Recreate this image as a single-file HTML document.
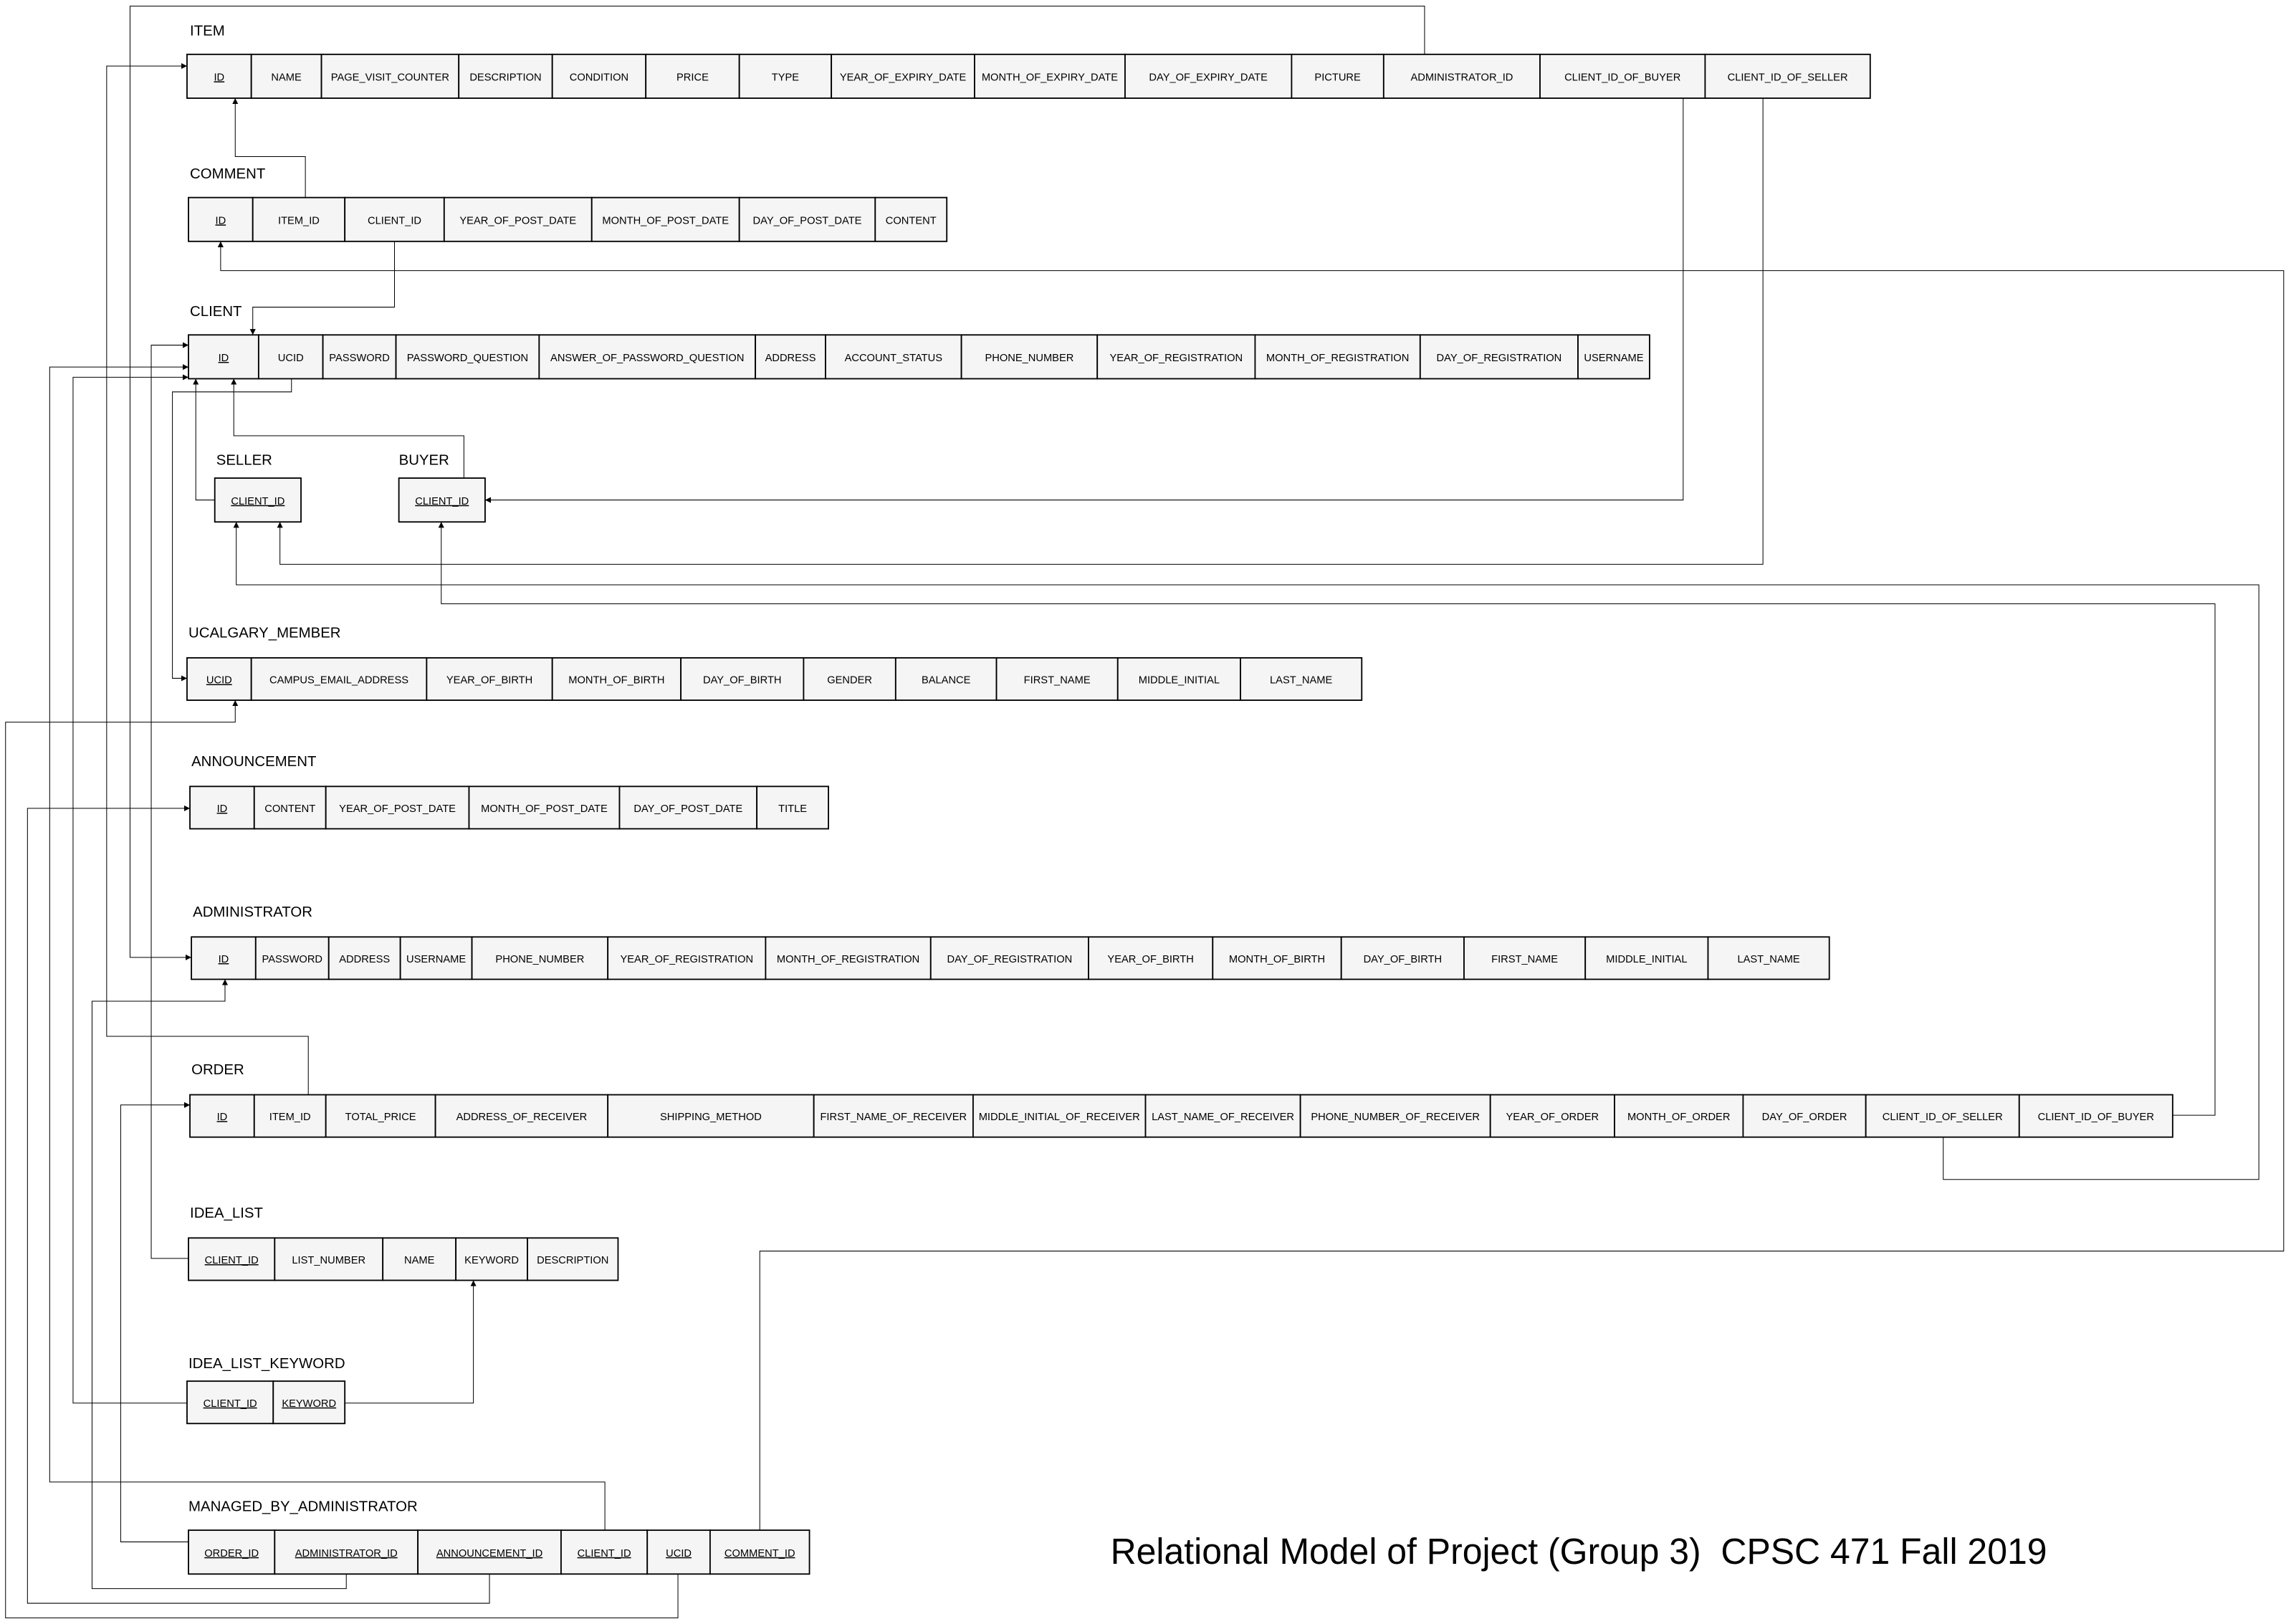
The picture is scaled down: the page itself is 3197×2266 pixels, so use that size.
<!DOCTYPE html>
<html><head><meta charset="utf-8">
<style>
html,body{margin:0;padding:0;background:#fff;}
svg{display:block;}
text{font-family:"Liberation Sans",Arial,sans-serif;fill:#000;}
.c{fill:#f5f5f5;stroke:#000;stroke-width:0.9;}
.t{font-size:7.2px;text-anchor:middle;}
.u{text-decoration:underline;}
.l{font-size:10px;}
.w{fill:none;stroke:#000;stroke-width:0.5;}
</style></head>
<body>
<svg width="3197" height="2266" viewBox="0 0 1568 1111" xmlns="http://www.w3.org/2000/svg">
<defs>
<marker id="a" viewBox="0 0 6 6" refX="6" refY="3" markerWidth="4" markerHeight="4" markerUnits="userSpaceOnUse" orient="auto">
<path d="M0,0 L6,3 L0,6 z" fill="#000"/>
</marker>
</defs>
<rect width="1568" height="1111" fill="#fff"/>

<!-- connectors -->
<g class="w" marker-end="url(#a)">
<path d="M975,37 V4 H89 V655 H131"/>
<path d="M209,135 V107 H161 V67"/>
<path d="M270,165 V210 H173 V229"/>
<path d="M520,1047 V856 H1563 V185 H151 V165"/>
<path d="M211,749 V709 H73 V45 H128"/>
<path d="M129,861 H103.5 V236 H129"/>
<path d="M414,1047 V1014 H34 V251 H129"/>
<path d="M128,960 H50 V258 H129"/>
<path d="M129,1055 H82.6 V756 H130"/>
<path d="M237,1077 V1087 H63 V685 H154 V670"/>
<path d="M335,1077 V1097 H18.8 V553 H130"/>
<path d="M464,1077 V1107 H3.8 V494 H161 V479"/>
<path d="M199.5,259 V268 H118 V464 H128"/>
<path d="M147,342 H134 V259"/>
<path d="M317.5,327 V298 H160 V259"/>
<path d="M1152,67 V342 H332"/>
<path d="M1206.6,67 V386 H191.6 V357"/>
<path d="M1330,778 V807 H1546 V400 H161.7 V357"/>
<path d="M1487,763 H1516 V413 H302 V357"/>
<path d="M236,960 H324 V876"/>
</g>

<!-- ITEM -->
<text class="l" x="130" y="24">ITEM</text>
<g>
<rect class="c" x="128" y="37" width="44" height="30"/><rect class="c" x="172" y="37" width="48" height="30"/><rect class="c" x="220" y="37" width="94" height="30"/><rect class="c" x="314" y="37" width="64" height="30"/><rect class="c" x="378" y="37" width="64" height="30"/><rect class="c" x="442" y="37" width="64" height="30"/><rect class="c" x="506" y="37" width="63" height="30"/><rect class="c" x="569" y="37" width="98" height="30"/><rect class="c" x="667" y="37" width="103" height="30"/><rect class="c" x="770" y="37" width="114" height="30"/><rect class="c" x="884" y="37" width="63" height="30"/><rect class="c" x="947" y="37" width="107" height="30"/><rect class="c" x="1054" y="37" width="113" height="30"/><rect class="c" x="1167" y="37" width="113" height="30"/>
<text class="t u" x="150" y="55">ID</text><text class="t" x="196" y="55">NAME</text><text class="t" x="267" y="55">PAGE_VISIT_COUNTER</text><text class="t" x="346" y="55">DESCRIPTION</text><text class="t" x="410" y="55">CONDITION</text><text class="t" x="474" y="55">PRICE</text><text class="t" x="537.5" y="55">TYPE</text><text class="t" x="618" y="55">YEAR_OF_EXPIRY_DATE</text><text class="t" x="718.5" y="55">MONTH_OF_EXPIRY_DATE</text><text class="t" x="827" y="55">DAY_OF_EXPIRY_DATE</text><text class="t" x="915.5" y="55">PICTURE</text><text class="t" x="1000.5" y="55">ADMINISTRATOR_ID</text><text class="t" x="1110.5" y="55">CLIENT_ID_OF_BUYER</text><text class="t" x="1223.5" y="55">CLIENT_ID_OF_SELLER</text>
</g>

<!-- COMMENT -->
<text class="l" x="130" y="122">COMMENT</text>
<rect class="c" x="129" y="135" width="44" height="30"/><rect class="c" x="173" y="135" width="63" height="30"/><rect class="c" x="236" y="135" width="68" height="30"/><rect class="c" x="304" y="135" width="101" height="30"/><rect class="c" x="405" y="135" width="101" height="30"/><rect class="c" x="506" y="135" width="93" height="30"/><rect class="c" x="599" y="135" width="49" height="30"/>
<text class="t u" x="151" y="153">ID</text><text class="t" x="204.5" y="153">ITEM_ID</text><text class="t" x="270" y="153">CLIENT_ID</text><text class="t" x="354.5" y="153">YEAR_OF_POST_DATE</text><text class="t" x="455.5" y="153">MONTH_OF_POST_DATE</text><text class="t" x="552.5" y="153">DAY_OF_POST_DATE</text><text class="t" x="623.5" y="153">CONTENT</text>

<!-- CLIENT -->
<text class="l" x="130" y="216">CLIENT</text>
<rect class="c" x="129" y="229" width="48" height="30"/><rect class="c" x="177" y="229" width="44" height="30"/><rect class="c" x="221" y="229" width="50" height="30"/><rect class="c" x="271" y="229" width="98" height="30"/><rect class="c" x="369" y="229" width="148" height="30"/><rect class="c" x="517" y="229" width="48" height="30"/><rect class="c" x="565" y="229" width="93" height="30"/><rect class="c" x="658" y="229" width="93" height="30"/><rect class="c" x="751" y="229" width="108" height="30"/><rect class="c" x="859" y="229" width="113" height="30"/><rect class="c" x="972" y="229" width="108" height="30"/><rect class="c" x="1080" y="229" width="49" height="30"/>
<text class="t u" x="153" y="247">ID</text><text class="t" x="199" y="247">UCID</text><text class="t" x="246" y="247">PASSWORD</text><text class="t" x="320" y="247">PASSWORD_QUESTION</text><text class="t" x="443" y="247">ANSWER_OF_PASSWORD_QUESTION</text><text class="t" x="541" y="247">ADDRESS</text><text class="t" x="611.5" y="247">ACCOUNT_STATUS</text><text class="t" x="704.5" y="247">PHONE_NUMBER</text><text class="t" x="805" y="247">YEAR_OF_REGISTRATION</text><text class="t" x="915.5" y="247">MONTH_OF_REGISTRATION</text><text class="t" x="1026" y="247">DAY_OF_REGISTRATION</text><text class="t" x="1104.5" y="247">USERNAME</text>

<!-- SELLER / BUYER -->
<text class="l" x="148" y="318">SELLER</text>
<rect class="c" x="147" y="327" width="59" height="30"/>
<text class="t u" x="176.5" y="345">CLIENT_ID</text>
<text class="l" x="273" y="318">BUYER</text>
<rect class="c" x="273" y="327" width="59" height="30"/>
<text class="t u" x="302.5" y="345">CLIENT_ID</text>

<!-- UCALGARY_MEMBER -->
<text class="l" x="129" y="436">UCALGARY_MEMBER</text>
<rect class="c" x="128" y="450" width="44" height="29"/><rect class="c" x="172" y="450" width="120" height="29"/><rect class="c" x="292" y="450" width="86" height="29"/><rect class="c" x="378" y="450" width="88" height="29"/><rect class="c" x="466" y="450" width="84" height="29"/><rect class="c" x="550" y="450" width="63" height="29"/><rect class="c" x="613" y="450" width="69" height="29"/><rect class="c" x="682" y="450" width="83" height="29"/><rect class="c" x="765" y="450" width="84" height="29"/><rect class="c" x="849" y="450" width="83" height="29"/>
<text class="t u" x="150" y="467.5">UCID</text><text class="t" x="232" y="467.5">CAMPUS_EMAIL_ADDRESS</text><text class="t" x="335" y="467.5">YEAR_OF_BIRTH</text><text class="t" x="422" y="467.5">MONTH_OF_BIRTH</text><text class="t" x="508" y="467.5">DAY_OF_BIRTH</text><text class="t" x="581.5" y="467.5">GENDER</text><text class="t" x="647.5" y="467.5">BALANCE</text><text class="t" x="723.5" y="467.5">FIRST_NAME</text><text class="t" x="807" y="467.5">MIDDLE_INITIAL</text><text class="t" x="890.5" y="467.5">LAST_NAME</text>

<!-- ANNOUNCEMENT -->
<text class="l" x="131" y="524">ANNOUNCEMENT</text>
<rect class="c" x="130" y="538" width="44" height="29"/><rect class="c" x="174" y="538" width="49" height="29"/><rect class="c" x="223" y="538" width="98" height="29"/><rect class="c" x="321" y="538" width="103" height="29"/><rect class="c" x="424" y="538" width="94" height="29"/><rect class="c" x="518" y="538" width="49" height="29"/>
<text class="t u" x="152" y="555.5">ID</text><text class="t" x="198.5" y="555.5">CONTENT</text><text class="t" x="272" y="555.5">YEAR_OF_POST_DATE</text><text class="t" x="372.5" y="555.5">MONTH_OF_POST_DATE</text><text class="t" x="471" y="555.5">DAY_OF_POST_DATE</text><text class="t" x="542.5" y="555.5">TITLE</text>

<!-- ADMINISTRATOR -->
<text class="l" x="132" y="627">ADMINISTRATOR</text>
<rect class="c" x="131" y="641" width="44" height="29"/><rect class="c" x="175" y="641" width="50" height="29"/><rect class="c" x="225" y="641" width="49" height="29"/><rect class="c" x="274" y="641" width="49" height="29"/><rect class="c" x="323" y="641" width="93" height="29"/><rect class="c" x="416" y="641" width="108" height="29"/><rect class="c" x="524" y="641" width="113" height="29"/><rect class="c" x="637" y="641" width="108" height="29"/><rect class="c" x="745" y="641" width="85" height="29"/><rect class="c" x="830" y="641" width="88" height="29"/><rect class="c" x="918" y="641" width="84" height="29"/><rect class="c" x="1002" y="641" width="83" height="29"/><rect class="c" x="1085" y="641" width="84" height="29"/><rect class="c" x="1169" y="641" width="83" height="29"/>
<text class="t u" x="153" y="658.5">ID</text><text class="t" x="200" y="658.5">PASSWORD</text><text class="t" x="249.5" y="658.5">ADDRESS</text><text class="t" x="298.5" y="658.5">USERNAME</text><text class="t" x="369.5" y="658.5">PHONE_NUMBER</text><text class="t" x="470" y="658.5">YEAR_OF_REGISTRATION</text><text class="t" x="580.5" y="658.5">MONTH_OF_REGISTRATION</text><text class="t" x="691" y="658.5">DAY_OF_REGISTRATION</text><text class="t" x="787.5" y="658.5">YEAR_OF_BIRTH</text><text class="t" x="874" y="658.5">MONTH_OF_BIRTH</text><text class="t" x="960" y="658.5">DAY_OF_BIRTH</text><text class="t" x="1043.5" y="658.5">FIRST_NAME</text><text class="t" x="1127" y="658.5">MIDDLE_INITIAL</text><text class="t" x="1210.5" y="658.5">LAST_NAME</text>

<!-- ORDER -->
<text class="l" x="131" y="735">ORDER</text>
<rect class="c" x="130" y="749" width="44" height="29"/><rect class="c" x="174" y="749" width="49" height="29"/><rect class="c" x="223" y="749" width="75" height="29"/><rect class="c" x="298" y="749" width="118" height="29"/><rect class="c" x="416" y="749" width="141" height="29"/><rect class="c" x="557" y="749" width="109" height="29"/><rect class="c" x="666" y="749" width="118" height="29"/><rect class="c" x="784" y="749" width="106" height="29"/><rect class="c" x="890" y="749" width="130" height="29"/><rect class="c" x="1020" y="749" width="85" height="29"/><rect class="c" x="1105" y="749" width="88" height="29"/><rect class="c" x="1193" y="749" width="84" height="29"/><rect class="c" x="1277" y="749" width="105" height="29"/><rect class="c" x="1382" y="749" width="105" height="29"/>
<text class="t u" x="152" y="766.5">ID</text><text class="t" x="198.5" y="766.5">ITEM_ID</text><text class="t" x="260.5" y="766.5">TOTAL_PRICE</text><text class="t" x="357" y="766.5">ADDRESS_OF_RECEIVER</text><text class="t" x="486.5" y="766.5">SHIPPING_METHOD</text><text class="t" x="611.5" y="766.5">FIRST_NAME_OF_RECEIVER</text><text class="t" x="725" y="766.5">MIDDLE_INITIAL_OF_RECEIVER</text><text class="t" x="837" y="766.5">LAST_NAME_OF_RECEIVER</text><text class="t" x="955" y="766.5">PHONE_NUMBER_OF_RECEIVER</text><text class="t" x="1062.5" y="766.5">YEAR_OF_ORDER</text><text class="t" x="1149" y="766.5">MONTH_OF_ORDER</text><text class="t" x="1235" y="766.5">DAY_OF_ORDER</text><text class="t" x="1329.5" y="766.5">CLIENT_ID_OF_SELLER</text><text class="t" x="1434.5" y="766.5">CLIENT_ID_OF_BUYER</text>

<!-- IDEA_LIST -->
<text class="l" x="130" y="833">IDEA_LIST</text>
<rect class="c" x="129" y="847" width="59" height="29"/><rect class="c" x="188" y="847" width="74" height="29"/><rect class="c" x="262" y="847" width="50" height="29"/><rect class="c" x="312" y="847" width="49" height="29"/><rect class="c" x="361" y="847" width="62" height="29"/>
<text class="t u" x="158.5" y="864.5">CLIENT_ID</text><text class="t" x="225" y="864.5">LIST_NUMBER</text><text class="t" x="287" y="864.5">NAME</text><text class="t" x="336.5" y="864.5">KEYWORD</text><text class="t" x="392" y="864.5">DESCRIPTION</text>

<!-- IDEA_LIST_KEYWORD -->
<text class="l" x="129" y="936">IDEA_LIST_KEYWORD</text>
<rect class="c" x="128" y="945" width="59" height="29"/><rect class="c" x="187" y="945" width="49" height="29"/>
<text class="t u" x="157.5" y="962.5">CLIENT_ID</text><text class="t u" x="211.5" y="962.5">KEYWORD</text>

<!-- MANAGED_BY_ADMINISTRATOR -->
<text class="l" x="129" y="1034">MANAGED_BY_ADMINISTRATOR</text>
<rect class="c" x="129" y="1047" width="59" height="30"/><rect class="c" x="188" y="1047" width="98" height="30"/><rect class="c" x="286" y="1047" width="98" height="30"/><rect class="c" x="384" y="1047" width="59" height="30"/><rect class="c" x="443" y="1047" width="43" height="30"/><rect class="c" x="486" y="1047" width="68" height="30"/>
<text class="t u" x="158.5" y="1065">ORDER_ID</text><text class="t u" x="237" y="1065">ADMINISTRATOR_ID</text><text class="t u" x="335" y="1065">ANNOUNCEMENT_ID</text><text class="t u" x="413.5" y="1065">CLIENT_ID</text><text class="t u" x="464.5" y="1065">UCID</text><text class="t u" x="520" y="1065">COMMENT_ID</text>

<!-- title -->
<text x="760" y="1070" font-size="25" textLength="641" lengthAdjust="spacingAndGlyphs" xml:space="preserve">Relational Model of Project (Group 3)  CPSC 471 Fall 2019</text>
</svg>
</body></html>
